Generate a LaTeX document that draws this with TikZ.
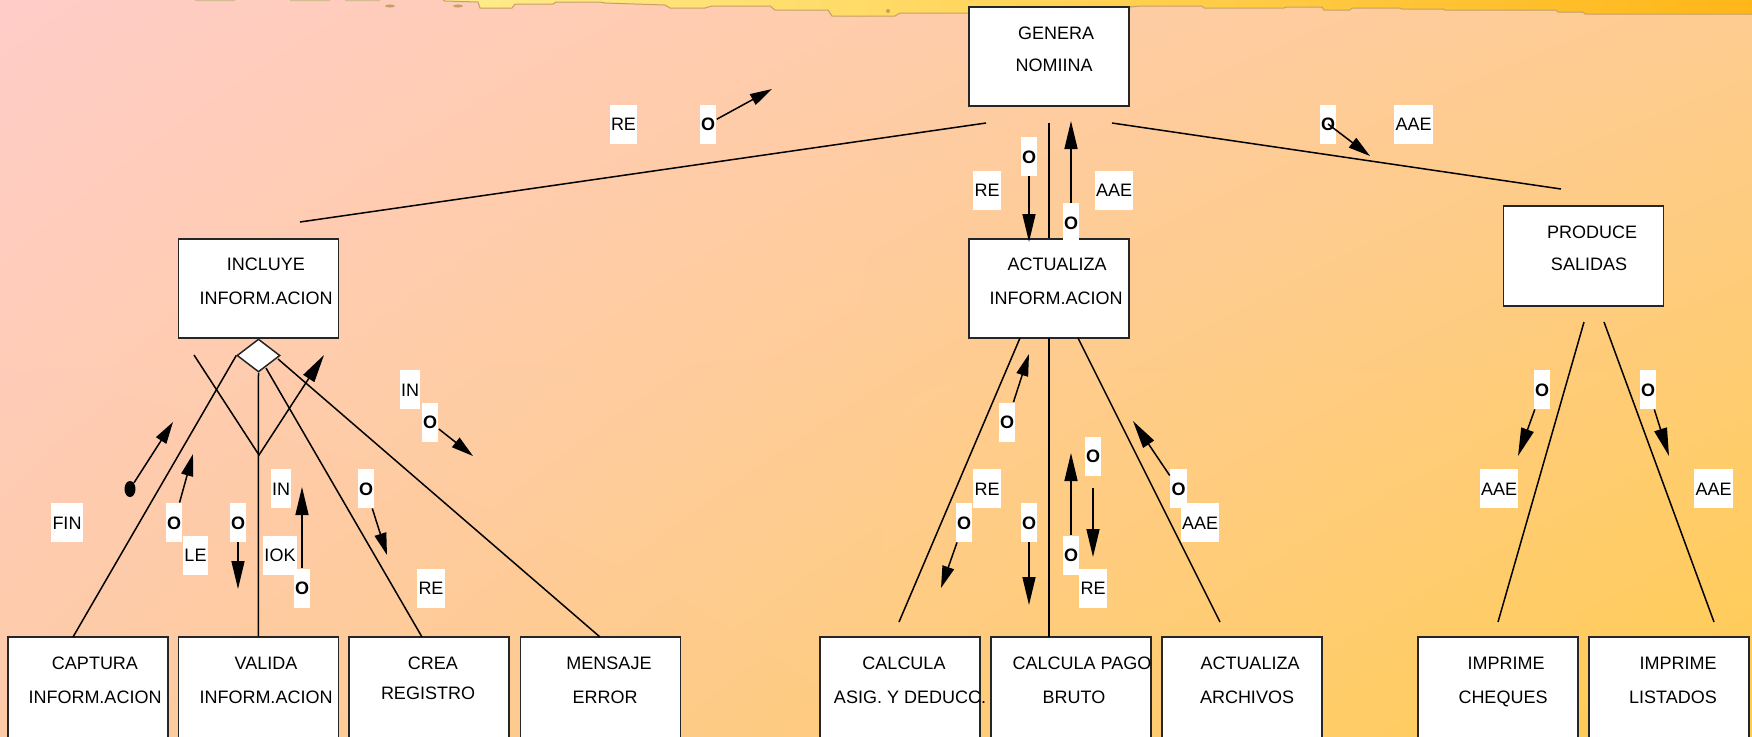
\documentclass[tikz,border=0pt]{standalone}
\usepackage{fontspec}
\setmainfont{Liberation Sans}
\usetikzlibrary{arrows.meta,shapes.geometric,shadings}

\definecolor{bgUL}{RGB}{255,204,200}
\definecolor{bgUR}{RGB}{254,204,145}
\definecolor{bgLL}{RGB}{254,203,168}
\definecolor{bgLR}{RGB}{255,204,82}
\definecolor{bandL}{RGB}{255,236,140}
\definecolor{bandR}{RGB}{255,182,24}
\definecolor{bandEdge}{RGB}{196,160,100}

\tikzset{
  box/.style={draw=black!85, line width=0.75pt, fill=white, rectangle, inner sep=0pt, minimum width=80pt},
  txt/.style={font=\fontsize{9}{10}\selectfont, text height=6.5pt, text depth=0pt, inner sep=0pt},
  tag/.style={fill=white, font=\fontsize{9}{10}\selectfont, text height=6.5pt, text depth=0pt,
              inner xsep=0.7pt, inner ysep=0pt, minimum height=19.5pt},
  otag/.style={tag, font=\fontsize{9}{10}\selectfont\bfseries},
  link/.style={line width=0.75pt, black},
  arr/.style={link, -{Triangle[length=14pt,width=6.5pt]}},
  sarr/.style={link, -{Triangle[length=11pt,width=6pt]}},
}

\begin{document}
\begin{tikzpicture}[x=0.5pt,y=-0.5pt]
\clip (0,0) rectangle (1752,736);
\useasboundingbox (0,0) rectangle (1752,736);

% background gradient
\shade[upper left=bgUL, upper right=bgUR, lower left=bgLL, lower right=bgLR]
  (0,0) rectangle (1752,736);

% torn band along the top edge
\shade[left color=bandL, right color=bandR, draw=bandEdge, line width=0.5pt]
  (440,-2) -- (445,1) -- (478,2) -- (480,8) -- (512,8) -- (515,4) -- (553,4) -- (556,2) -- (600,2)
  -- (605,3) -- (665,5) -- (670,8) -- (705,8) -- (712,6) -- (770,6) -- (775,10) -- (828,10)
  -- (832,16) -- (895,16) -- (900,13) -- (1129,13) -- (1130,7) -- (1140,6) -- (1202,6) -- (1204,8)
  -- (1284,8) -- (1286,7) -- (1322,7) -- (1324,10) -- (1350,10) -- (1352,8) -- (1400,8) -- (1402,9)
  -- (1443,9) -- (1445,10) -- (1556,10) -- (1558,12) -- (1583,12) -- (1585,14) -- (1760,14)
  -- (1760,-2) -- cycle;
\fill[bandEdge] (390,6) ellipse (5 and 1.5) (458,6) ellipse (5 and 1.5) (888,11) circle (2);
\fill[bandEdge!70] (195,0) rectangle (235,1) (290,0) rectangle (330,1) (345,0) rectangle (380,1);

% ---------- boxes ----------
\node[box, minimum height=49.5pt] (gen) at (1049,56.5) {};
\node[box, minimum height=49.5pt] (inc) at (258.5,288.5) {};
\node[box, minimum height=49.5pt] (act) at (1049,288.5) {};
\node[box, minimum height=50pt]   (pro) at (1583.5,256) {};

\node[box, minimum height=60pt] (cap) at (87.75,697) {};
\node[box, minimum height=60pt] (val) at (258.25,697) {};
\node[box, minimum height=60pt] (cre) at (429,697) {};
\node[box, minimum height=60pt] (men) at (600.25,697) {};
\node[box, minimum height=60pt] (cal) at (900,697) {};
\node[box, minimum height=60pt] (pag) at (1070.8,697) {};
\node[box, minimum height=60pt] (arc) at (1242,697) {};
\node[box, minimum height=60pt] (che) at (1498,697) {};
\node[box, minimum height=60pt] (lis) at (1669,697) {};

\node[draw=black!85, line width=0.75pt, fill=white, diamond, inner sep=0pt,
      minimum width=21.5pt, minimum height=16.5pt] (dia) at (258.5,355.5) {};

% ---------- box texts ----------
\node[txt] (gen1) at (1056,33) {GENERA};
\node[txt] (gen2) at (1054,65) {NOMIINA};
\node[txt] (inc1) at (266,264) {INCLUYE};
\node[txt] (inc2) at (266,298) {INFORM.ACION};
\node[txt] (act1) at (1057,264) {ACTUALIZA};
\node[txt] (act2) at (1056,298) {INFORM.ACION};
\node[txt] (pro1) at (1592,232) {PRODUCE};
\node[txt] (pro2) at (1589,264) {SALIDAS};

\node[txt] (cap1) at (95,663) {CAPTURA};
\node[txt] (cap2) at (95,697) {INFORM.ACION};
\node[txt] (val1) at (266,663) {VALIDA};
\node[txt] (val2) at (266,697) {INFORM.ACION};
\node[txt] (cre1) at (433,663) {CREA};
\node[txt] (cre2) at (428,693) {REGISTRO};
\node[txt] (men1) at (609,663) {MENSAJE};
\node[txt] (men2) at (605,697) {ERROR};
\node[txt] (cal1) at (904,663) {CALCULA};
\node[txt] (cal2) at (910,697) {ASIG. Y DEDUCC.};
\node[txt] (pag1) at (1082,663) {CALCULA PAGO};
\node[txt] (pag2) at (1074,697) {BRUTO};
\node[txt] (arc1) at (1250,663) {ACTUALIZA};
\node[txt] (arc2) at (1247,697) {ARCHIVOS};
\node[txt] (che1) at (1506,663) {IMPRIME};
\node[txt] (che2) at (1503,697) {CHEQUES};
\node[txt] (lis1) at (1678,663) {IMPRIME};
\node[txt] (lis2) at (1673,697) {LISTADOS};

% ---------- connector end points ----------
\coordinate (gL) at (986,123);   \coordinate (incT) at (300,222);
\coordinate (gM) at (1049,123);
\coordinate (gR) at (1112,123);  \coordinate (proT) at (1561,189);

\coordinate (capT) at (73,637);
\coordinate (creS) at (266,368); \coordinate (creT) at (422,637);
\coordinate (menS) at (278,359); \coordinate (menT) at (600,637);
\coordinate (v1) at (194,355); \coordinate (v2) at (259,455); \coordinate (v3) at (324,355);

\coordinate (aL) at (1020,338);  \coordinate (calT) at (899,622);
\coordinate (aM) at (1049,338);  \coordinate (pagT) at (1049,637);
\coordinate (aR) at (1078,338);  \coordinate (arcT) at (1220,622);
\coordinate (pL) at (1584,322);  \coordinate (cheT) at (1498,622);
\coordinate (pR) at (1604,322);  \coordinate (lisT) at (1714,622);

% ---------- tree lines ----------
\draw[link] (gL) -- (incT);
\draw[link] (gM) -- (act.north);
\draw[link] (gR) -- (proT);

\draw[link] (dia.west) -- (capT);
\draw[link] (dia.south) -- (val.north);
\draw[link] (creS) -- (creT);
\draw[link] (menS) -- (menT);
\draw[arr] (v1) -- (v2) -- (v3);

\draw[link] (aL) -- (calT);
\draw[link] (aM) -- (pagT);
\draw[link] (aR) -- (arcT);
\draw[link] (pL) -- (cheT);
\draw[link] (pR) -- (lisT);

% ---------- labels ----------
\node[tag]  (re1)  at (623.5,124) {RE};
\node[otag] (o1)   at (708,124) {O};
\node[otag] (o2)   at (1029,156.5) {O};
\node[tag]  (re2)  at (987,190) {RE};
\node[otag] (o3)   at (1071,222.5) {O};
\node[tag]  (aae1) at (1114,190) {AAE};
\node[otag] (o4)   at (1328,124) {O};
\node[tag]  (aae2) at (1413.5,124) {AAE};

\node[tag]  (in1)  at (410,389.5) {IN};
\node[otag] (o5)   at (430,422) {O};
\node[tag]  (fin)  at (67,522.5) {FIN};
\node[otag] (o6)   at (174,522.5) {O};
\node[tag]  (le)   at (195.5,555) {LE};
\node[otag] (o7)   at (238,522.5) {O};
\node[tag]  (in2)  at (281,488.5) {IN};
\node[tag]  (iok)  at (280,555) {IOK};
\node[otag] (o8)   at (302,588) {O};
\node[otag] (o9)   at (366,488.5) {O};
\node[tag]  (re3)  at (431,588) {RE};

\node[otag] (o10)  at (1007,422) {O};
\node[tag]  (re4)  at (987,488.5) {RE};
\node[otag] (o11)  at (964,522.5) {O};
\node[otag] (o12)  at (1029,522.5) {O};
\node[otag] (o13)  at (1093,456) {O};
\node[otag] (o14)  at (1071,555) {O};
\node[tag]  (re5)  at (1093,588) {RE};
\node[otag] (o15)  at (1178.5,488.5) {O};
\node[tag]  (aae3) at (1200,522.5) {AAE};

\node[otag] (o16)  at (1542,389.5) {O};
\node[tag]  (aae4) at (1499,488.5) {AAE};
\node[otag] (o17)  at (1648,389.5) {O};
\node[tag]  (aae5) at (1713.5,488.5) {AAE};

\node[fill=black, ellipse, inner sep=0pt, minimum width=5.5pt, minimum height=8pt] (dot) at (130,489) {};

% ---------- flow arrows ----------
\coordinate (t1) at (772,89);
\coordinate (t2) at (1029,242);
\coordinate (t3) at (1071,121);
\coordinate (t4) at (1370,156);
\coordinate (t5) at (173,422);
\coordinate (t6) at (193,454);
\coordinate (t7) at (238,589);
\coordinate (t8) at (302,487);
\coordinate (t9) at (387,555);
\coordinate (t10) at (473,456);
\coordinate (t11) at (1029,354);
\coordinate (t12) at (941,588);
\coordinate (t13) at (1029,605);
\coordinate (t14) at (1071,453);
\coordinate (t15) at (1093,557);
\coordinate (t16) at (1133,421);
\coordinate (t17) at (1518,456);
\coordinate (t18) at (1669,456);

\draw[sarr] (o1) -- (t1);
\draw[arr] (o2) -- (t2);
\draw[arr] (o3) -- (t3);
\draw[sarr] (o4.center) -- (t4);
\draw[sarr] (dot) -- (t5);
\draw[sarr] (o6) -- (t6);
\draw[arr] (o7) -- (t7);
\draw[arr] (o8) -- (t8);
\draw[sarr] (o9) -- (t9);
\draw[sarr] (o5) -- (t10);
\draw[sarr] (o10) -- (t11);
\draw[sarr] (o11) -- (t12);
\draw[arr] (o12) -- (t13);
\draw[arr] (o14) -- (t14);
\draw[arr, shorten <=6pt] (o13) -- (t15);
\draw[arr] (o15) -- (t16);
\draw[arr] (o16) -- (t17);
\draw[arr] (o17) -- (t18);
\end{tikzpicture}
\end{document}
